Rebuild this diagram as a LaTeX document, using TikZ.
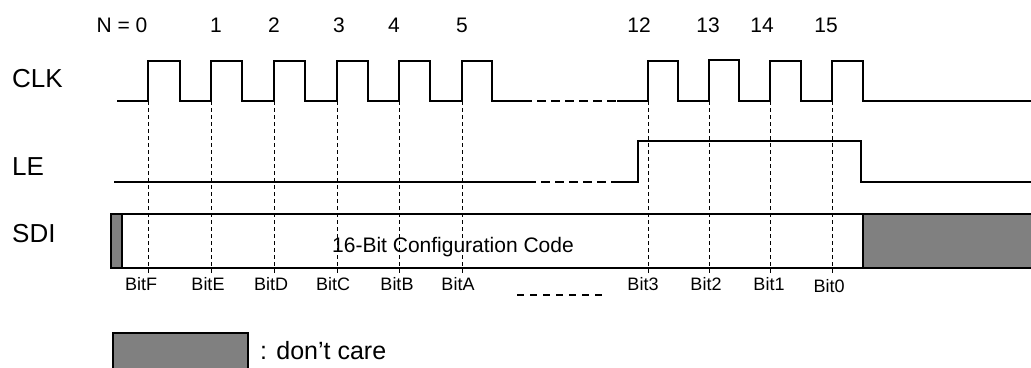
\documentclass[tikz,border=0pt]{standalone}
\usepackage{fontspec}
\setmainfont{Liberation Sans}
\begin{document}
\begin{tikzpicture}[x=1pt,y=-1pt,
  wave/.style={line width=1.5pt, line join=miter},
  gapline/.style={line width=1.5pt, dash pattern=on 9pt off 5pt},
  guide/.style={line width=0.8pt, dash pattern=on 4pt off 3pt},
  dc/.style={fill=black!50, draw=black, line width=1.3pt},
  sig/.style={anchor=base west, inner sep=0pt, font=\fontsize{26}{30}\selectfont},
  num/.style={anchor=base, inner sep=0pt, font=\fontsize{21}{25}\selectfont},
  bit/.style={anchor=base, inner sep=0pt, font=\fontsize{18}{22}\selectfont}]
\useasboundingbox (0,0) rectangle (1031,367);
\fill[white] (0,0) rectangle (1031,367);

% signal names
\node[sig] (clk) at (12,87) {CLK};
\node[sig] (le) at (12,175) {LE};
\node[sig] (sdi) at (12,242) {SDI};

% clock numbers
\node[num] (n0) at (122,32) {N = 0};
\node[num] (n1) at (216,32) {1};
\node[num] (n2) at (274,32) {2};
\node[num] (n3) at (339,32) {3};
\node[num] (n4) at (394,32) {4};
\node[num] (n5) at (462,32) {5};
\node[num] (n12) at (639,32) {12};
\node[num] (n13) at (708,32) {13};
\node[num] (n14) at (762,32) {14};
\node[num] (n15) at (826,32) {15};

% SDI bus
\draw[line width=1.3pt] (111,214) -- (1040,214);
\draw[line width=1.3pt] (111,268) -- (1040,268);
\draw[dc] (111,214) rectangle (122,268);
\draw[dc] (863,214) rectangle (1045,268);

% guides
\foreach \x in {148,211,274,337,399,462,648,709,770,832}
  \draw[guide] (\x,101) -- (\x,273);

% CLK
\draw[wave] (117,101) -- (148,101) -- (148,61) -- (180,61) -- (180,101)
  -- (211,101) -- (211,61) -- (242,61) -- (242,101)
  -- (274,101) -- (274,61) -- (305,61) -- (305,101)
  -- (337,101) -- (337,61) -- (368,61) -- (368,101)
  -- (399,101) -- (399,61) -- (430,61) -- (430,101)
  -- (462,101) -- (462,61) -- (492,61) -- (492,101) -- (523,101);
\draw[gapline] (523,101) -- (617,101);
\draw[wave] (617,101) -- (648,101) -- (648,61) -- (678,61) -- (678,101)
  -- (709,101) -- (709,60) -- (739,60) -- (739,101)
  -- (770,101) -- (770,61) -- (801,61) -- (801,101)
  -- (832,101) -- (832,61) -- (863,61) -- (863,101) -- (1040,101);

% LE
\draw[wave] (114,182) -- (527,182);
\draw[gapline] (527,182) -- (617,182);
\draw[wave] (617,182) -- (638,182) -- (638,141) -- (861,141) -- (861,182) -- (1040,182);

% SDI text
\node[anchor=base, inner sep=0pt, font=\fontsize{21}{25}\selectfont] (code) at (453,252) {16-Bit Configuration Code};

% bit labels
\node[bit] (bF) at (141,290) {BitF};
\node[bit] (bE) at (208,290) {BitE};
\node[bit] (bD) at (271,290) {BitD};
\node[bit] (bC) at (333,290) {BitC};
\node[bit] (bB) at (397,290) {BitB};
\node[bit] (bA) at (458,290) {BitA};
\node[bit] (b3) at (643,290) {Bit3};
\node[bit] (b2) at (706,290) {Bit2};
\node[bit] (b1) at (769,290) {Bit1};
\node[bit] (b0) at (829,292) {Bit0};
\draw[gapline, line width=1.2pt, dash pattern=on 7pt off 6pt] (517,295) -- (607,295);

% legend
\draw[dc] (113,333) rectangle (248,375);
\node[anchor=base west, inner sep=0pt, font=\fontsize{25}{30}\selectfont] (leg) at (260,359) {: don’t care};
\end{tikzpicture}
\end{document}
